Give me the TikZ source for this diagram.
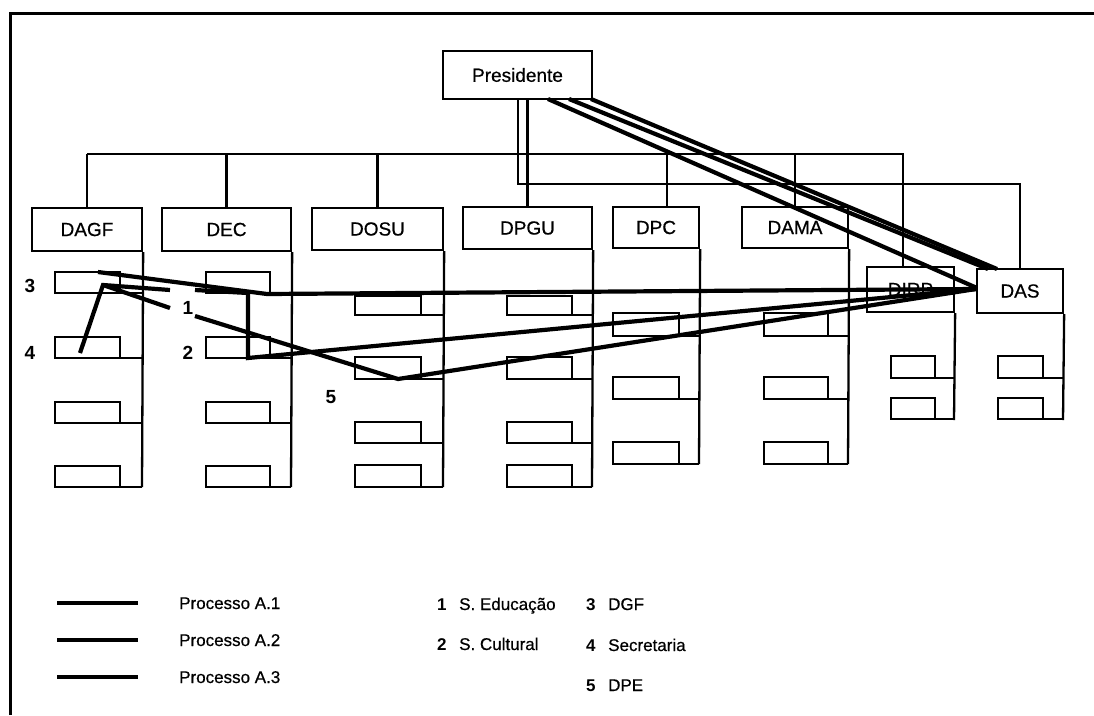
\documentclass[tikz,border=0pt]{standalone}
\usepackage{fontspec}
\setmainfont{Liberation Sans}
\newfontfamily\hv[FakeBold=0.6]{Liberation Sans}
\begin{document}
\begin{tikzpicture}[x=1pt,y=-1pt,line join=miter,
  box/.style={draw,line width=2.3pt,fill=white,inner sep=0pt,font=\hv\fontsize{19}{19}\selectfont},
  tree/.style={line width=2.2pt},
  frame/.style={line width=3pt},
  sub/.style={line width=2.3pt},
  proc/.style={line width=4.2pt},
  legline/.style={line width=4.5pt},
  lab/.style={font=\bfseries\fontsize{19}{19}\selectfont,inner sep=0pt},
  leg/.style={font=\hv\fontsize{17}{17}\selectfont,anchor=base west,inner sep=0pt},
  legnum/.style={font=\bfseries\fontsize{17}{17}\selectfont,anchor=base west,inner sep=0pt}]
\useasboundingbox (0,0) rectangle (1094,715);
% frame
\draw[frame] (10,715) -- (10,13) -- (1094,13);

% tree connectors
\coordinate (busL) at (87,154);
\coordinate (busR) at (903,154);
\coordinate (bus2L) at (518,184);
\coordinate (bus2R) at (1020,184);
\draw[tree] (busL) -- (busR) -- (903,267);
\draw[tree] (87,154) -- (87,208);
\draw[tree] (226.5,154) -- (226.5,208);
\draw[tree] (377.5,154) -- (377.5,208);
\draw[tree] (667,154) -- (667,207);
\draw[tree] (795,154) -- (795,207);
\draw[tree] (518,99) -- (bus2L) -- (bus2R) -- (1020,269);
\draw[tree] (527.5,99) -- (527.5,207);

% boxes
\node[box,minimum width=149pt,minimum height=48pt] (pres) at (517.5,75) {Presidente};
\node[box,minimum width=110pt,minimum height=43pt] (dagf) at (87,229.5) {DAGF};
\node[box,minimum width=129pt,minimum height=43pt] (dec) at (226.5,229.5) {DEC};
\node[box,minimum width=131pt,minimum height=42pt] (dosu) at (377.5,229) {DOSU};
\node[box,minimum width=129pt,minimum height=42pt] (dpgu) at (527.5,228) {DPGU};
\node[box,minimum width=86pt,minimum height=41pt] (dpc) at (656,227.5) {DPC};
\node[box,minimum width=106pt,minimum height=41pt] (dama) at (795,227.5) {DAMA};
\node[box,minimum width=87pt,minimum height=45pt] (dirp) at (910.5,289.5) {DIRP};
\node[box,minimum width=86pt,minimum height=44pt] (das) at (1020,291) {DAS};

% columns with sub-units
\draw[sub] (dagf.south east) -- (142,487);
\foreach \t/\b in {272/293,337/358,402/423,466/487}{\draw[sub] (55,\t) rectangle (120,\b); \draw[sub] (120,\b) -- (142,\b);}
\draw[sub] (dec.south east) -- (291,487);
\foreach \t/\b in {272/293,337/358,402/423,466/487}{\draw[sub] (206,\t) rectangle (270,\b); \draw[sub] (270,\b) -- (291,\b);}
\draw[sub] (dosu.south east) -- (443,487);
\foreach \t/\b in {296/315,357/379,422/443,465/487}{\draw[sub] (355,\t) rectangle (421,\b); \draw[sub] (421,\b) -- (443,\b);}
\draw[sub] (dpgu.south east) -- (592,487);
\foreach \t/\b in {296/315,357/379,422/443,465/487}{\draw[sub] (507,\t) rectangle (572,\b); \draw[sub] (572,\b) -- (592,\b);}
\draw[sub] (dpc.south east) -- (699,464);
\foreach \t/\b in {313/336,377/399,442/464}{\draw[sub] (613,\t) rectangle (679,\b); \draw[sub] (679,\b) -- (699,\b);}
\draw[sub] (dama.south east) -- (848,464);
\foreach \t/\b in {313/336,377/399,442/464}{\draw[sub] (764,\t) rectangle (828,\b); \draw[sub] (828,\b) -- (848,\b);}
\draw[sub] (dirp.south east) -- (954,420);
\foreach \t/\b in {356/378,398/419}{\draw[sub] (891,\t) rectangle (935,\b); \draw[sub] (935,\b) -- (954,\b);}
\draw[sub] (das.south east) -- (1063,420);
\foreach \t/\b in {356/378,398/419}{\draw[sub] (998,\t) rectangle (1043,\b); \draw[sub] (1043,\b) -- (1063,\b);}

% process paths
\coordinate (dasin) at (976,289);
\draw[proc] (548,99) -- (977,288);
\draw[proc] (569,99) -- (988,269);
\draw[proc] (591,99) -- (997,269);
\coordinate (p3) at (98,272);
\coordinate (pivot) at (103,285);
\coordinate (p4) at (80,353);
\coordinate (j1) at (267,294);
\coordinate (v1) at (248,293);
\coordinate (v2) at (248,358);
\coordinate (d5) at (398,379);
\draw[proc] (p3) -- (j1) -- (dasin);
\draw[proc] (p4) -- (pivot) -- (170,290);
\draw[proc] (195,290) -- (v1) -- (v2) -- (dasin);
\draw[proc] (pivot) -- (170,308);
\draw[proc] (195,316) -- (d5) -- (dasin);

% labels
\node[lab] (n3) at (30,286) {3};
\node[lab] (n4) at (30,353) {4};
\node[lab] (n1) at (188,308) {1};
\node[lab] (n2) at (188,353) {2};
\node[lab] (n5) at (331,397) {5};

% legend
\coordinate (l1a) at (57,603); \coordinate (l1b) at (138,603);
\coordinate (l2a) at (57,640); \coordinate (l2b) at (138,640);
\coordinate (l3a) at (57,677); \coordinate (l3b) at (138,677);
\draw[legline] (l1a) -- (l1b);
\draw[legline] (l2a) -- (l2b);
\draw[legline] (l3a) -- (l3b);
\node[leg] (t1) at (179,609) {Processo A.1};
\node[leg] (t2) at (179,646) {Processo A.2};
\node[leg] (t3) at (179,683) {Processo A.3};
\node[legnum] (k1) at (437,610) {1};
\node[leg] (k1t) at (459,610) {S. Educação};
\node[legnum] (k2) at (437,650) {2};
\node[leg] (k2t) at (459,650) {S. Cultural};
\node[legnum] (k3) at (586,610) {3};
\node[leg] (k3t) at (608,610) {DGF};
\node[legnum] (k4) at (586,651) {4};
\node[leg] (k4t) at (608,651) {Secretaria};
\node[legnum] (k5) at (586,691) {5};
\node[leg] (k5t) at (608,691) {DPE};
\end{tikzpicture}
\end{document}
